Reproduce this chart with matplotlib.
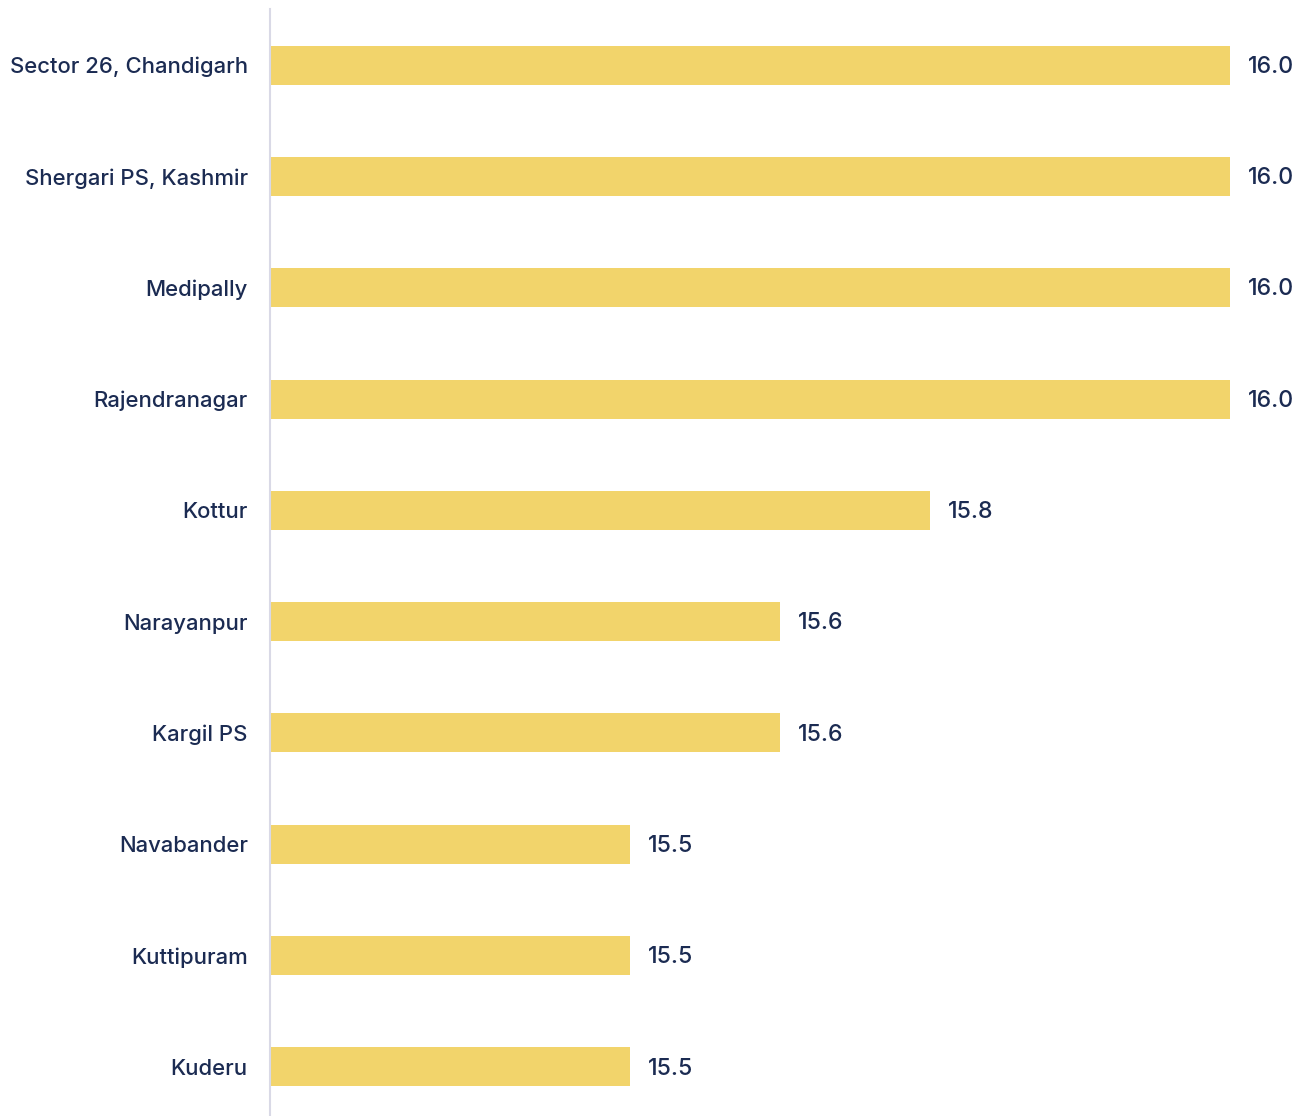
import matplotlib
matplotlib.use("Agg")
import matplotlib.pyplot as plt

locations = [
    "Sector 26, Chandigarh",
    "Shergari PS, Kashmir",
    "Medipally",
    "Rajendranagar",
    "Kottur",
    "Narayanpur",
    "Kargil PS",
    "Navabander",
    "Kuttipuram",
    "Kuderu",
]
values = [16.0, 16.0, 16.0, 16.0, 15.75, 15.625, 15.625, 15.5, 15.5, 15.5]

BAR_COLOR = "#F2D46B"
TEXT_COLOR = "#1B2B52"
AXIS_COLOR = "#D9D9E6"

plt.rcParams["font.family"] = ["Inter", "DejaVu Sans"]

W, H = 1307, 1116
fig = plt.figure(figsize=(W / 100, H / 100), dpi=100)
ax = fig.add_axes([270 / W, -6.6 / H, (1230 - 270) / W, (1116 + 6.6 - 9.4) / H])

base = 15.2
y = list(range(len(locations)))
ax.barh(y, [v - base for v in values], left=base, height=0.35, color=BAR_COLOR)

ax.set_xlim(base, 16.0)
ax.set_ylim(len(locations) - 0.5, -0.5)

for yi, v in zip(y, values):
    ax.annotate(f"{v:.1f}", xy=(v, yi), xytext=(13, -1.2), textcoords="offset points",
                ha="left", va="center", fontsize=16.6, fontweight="medium",
                color=TEXT_COLOR, annotation_clip=False)

ax.set_yticks(y)
ax.set_yticklabels(locations, fontsize=15.9, fontweight="medium", color=TEXT_COLOR)
ax.tick_params(axis="y", length=0, pad=16)
ax.set_xticks([])

for side in ("top", "right", "bottom"):
    ax.spines[side].set_visible(False)
ax.spines["left"].set_color(AXIS_COLOR)
ax.spines["left"].set_linewidth(1.5)

fig.savefig("out.png", dpi=100, facecolor="white")
